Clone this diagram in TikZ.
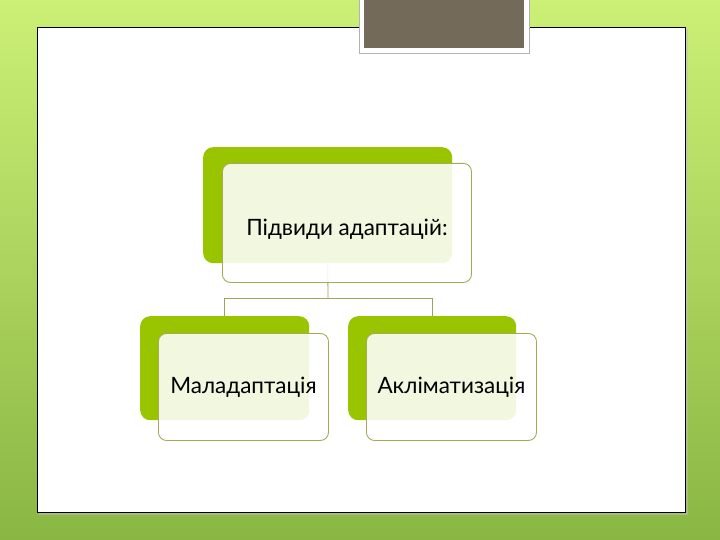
\documentclass[tikz,border=0pt]{standalone}
\usepackage{fontspec}
\setmainfont{Lato}
\usepackage{tikz}
\usetikzlibrary{positioning, calc}
\definecolor{limetop}{RGB}{204, 240, 118}
\definecolor{limebot}{RGB}{138, 182, 68}
\definecolor{backgreen}{RGB}{152, 196, 0}
\definecolor{frontline}{RGB}{165, 170, 85}
\definecolor{linkolive}{RGB}{160, 160, 95}
\definecolor{titlegray}{RGB}{115, 106, 90}

\begin{document}
\begin{tikzpicture}[x=1pt, y=-1pt,
    backbox/.style={fill=backgreen, rounded corners=10pt, anchor=north west, inner sep=0pt},
    frontbox/.style={draw=frontline, line width=0.9pt, fill=white, fill opacity=0.88, text opacity=1,
      rounded corners=8pt, anchor=north west, inner sep=0pt, align=center, font=\fontsize{22.5}{26}\selectfont},
    link/.style={draw=linkolive, line width=0.8pt}]
  % Background and slide frame
  \shade[top color=limetop, bottom color=limebot] (0,0) rectangle (720,540);
  \useasboundingbox (0,0) rectangle (720,540);
  \fill[black!25, opacity=0.5] (39,29) rectangle (688,515);
  \draw[black, line width=0.8pt, fill=white] (37,27) rectangle (685,512);

  % Title placeholder
  \draw[black!30, line width=0.6pt, fill=white] (359,-2) rectangle (529,53);
  \fill[titlegray] (364,-2) rectangle (524,48);

  % Back boxes
  \node[backbox, minimum width=249pt, minimum height=116pt] (topback) at (203,147) {};
  \node[backbox, minimum width=169pt, minimum height=104pt] (leftback) at (140,316) {};
  \node[backbox, minimum width=168pt, minimum height=104pt] (rightback) at (348,316) {};

  % Connectors
  \coordinate (bus) at (328,298);
  \path[link] (topback.south) -- (bus);
  \path[link] (bus) -| (leftback.north);
  \path[link] (bus) -| (rightback.north);

  % Front boxes
  \node[frontbox, minimum width=249pt, minimum height=119pt, text depth=0pt] (topfront) at (222,163)
    {\raisebox{-8pt}{Підвиди адаптацій:}};
  \node[frontbox, minimum width=170pt, minimum height=107pt] (leftfront) at (158,333) {Маладаптація};
  \node[frontbox, minimum width=170pt, minimum height=107pt] (rightfront) at (366,333) {Акліматизація};
\end{tikzpicture}
\end{document}
